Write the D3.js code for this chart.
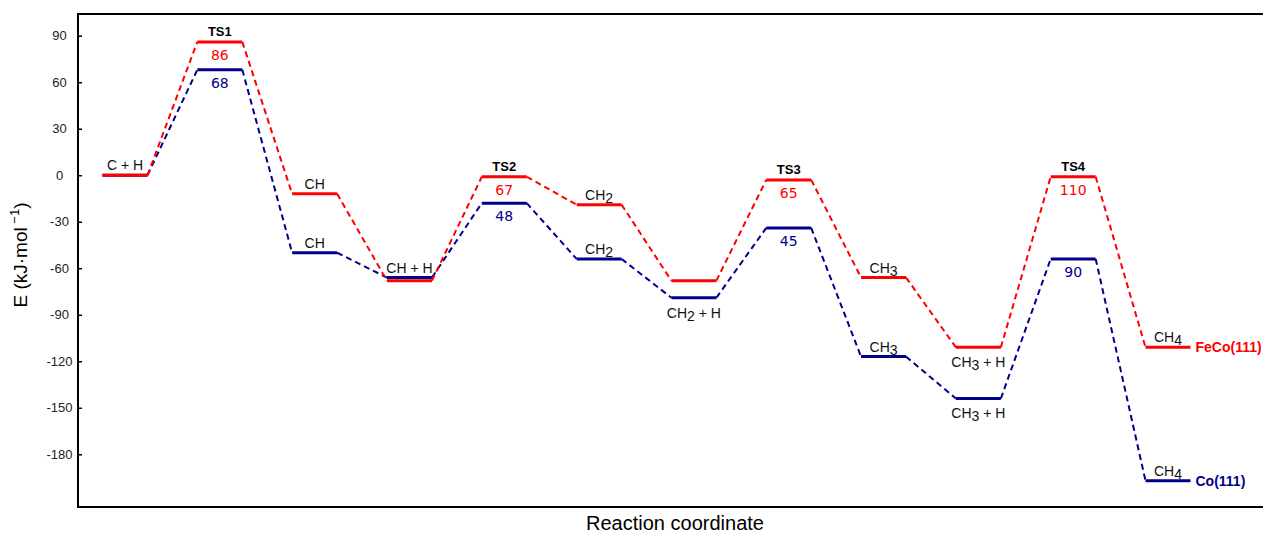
<!DOCTYPE html>
<html>
<head>
<meta charset="utf-8">
<script src="https://cdn.jsdelivr.net/npm/d3@7"></script>
<style>
body { margin: 0; background: #fff; }
text { font-family: "Liberation Sans", Arial, sans-serif; }
</style>
</head>
<body>
<script>
// reaction states along the coordinate
var states = ["C + H", "TS1", "CH", "CH + H", "TS2", "CH2", "CH2 + H", "TS3", "CH3", "CH3 + H", "TS4", "CH4"];
// energies (kJ/mol)
var fecoE = [0, 86, -12, -68, -1, -19, -68, -3, -66, -111, -1, -111];
var coE = [0, 68, -50, -66, -18, -54, -79, -34, -117, -144, -54, -197];
// barrier labels at each TS
var fecoBarrier = [86, 67, 65, 110];
var coBarrier = [68, 48, 45, 90];
var yTicks = [90, 60, 30, 0, -30, -60, -90, -120, -150, -180];

var width = 1263, height = 533;
var red = "#ff0000", blue = "#00008b";

var svg = d3.select("body").append("svg")
	.attr("width", width)
	.attr("height", height);

var x = d3.scaleLinear().domain([0, states.length - 1]).range([125, 1168]);
var y = d3.scaleLinear().domain([-214, 104]).range([507, 14]);
var half = 22.5;

// frame
svg.append("rect")
	.attr("x", 78).attr("y", 14)
	.attr("width", 1200).attr("height", 493)
	.attr("fill", "none").attr("stroke", "#000").attr("stroke-width", 2);

// y axis, ticks inside, labels centred in the margin
var yAxis = svg.append("g")
	.attr("transform", "translate(78,0)")
	.call(d3.axisRight(y).tickValues(yTicks).tickSize(4).tickFormat(function(d) { return String(d); }));
yAxis.select(".domain").remove();
yAxis.selectAll("line").attr("stroke", "#000").attr("stroke-width", 1.5);
yAxis.selectAll("text")
	.attr("x", -18.5)
	.attr("text-anchor", "middle")
	.attr("fill", "#222")
	.style("font-size", "13px")
	.style("font-family", "Liberation Sans, Arial, sans-serif");

// axis titles
var yt = svg.append("text")
	.attr("transform", "translate(27,255) rotate(-90)")
	.attr("text-anchor", "middle")
	.style("font-size", "19px");
yt.append("tspan").text("E (kJ\u00b7mol");
yt.append("tspan").attr("dy", -8).style("font-size", "13px").text(" \u22121");
yt.append("tspan").attr("dy", 8).text(")");

svg.append("text")
	.attr("x", 675).attr("y", 530)
	.attr("text-anchor", "middle")
	.style("font-size", "20px")
	.text("Reaction coordinate");

function drawSeries(vals, color) {
	var g = svg.append("g");
	// dashed connectors
	for (var i = 0; i < vals.length - 1; i++) {
		g.append("line")
			.attr("x1", x(i) + half).attr("y1", y(vals[i]))
			.attr("x2", x(i + 1) - half).attr("y2", y(vals[i + 1]))
			.attr("stroke", color).attr("stroke-width", 2)
			.attr("stroke-dasharray", "6,4");
	}
	// levels
	g.selectAll("line.level").data(vals).enter().append("line")
		.attr("class", "level")
		.attr("x1", function(d, i) { return x(i) - half; })
		.attr("x2", function(d, i) { return x(i) + half; })
		.attr("y1", function(d) { return y(d); })
		.attr("y2", function(d) { return y(d); })
		.attr("stroke", color).attr("stroke-width", 3);
}

drawSeries(coE, blue);
drawSeries(fecoE, red);

// state name with subscripts
function stateLabel(i, yy) {
	var t = svg.append("text")
		.attr("x", x(i)).attr("y", yy)
		.attr("text-anchor", "middle")
		.attr("fill", "#111")
		.style("font-size", "14px");
	var m = states[i].match(/^(CH)(\d)(.*)$/);
	if (m) {
		t.append("tspan").text(m[1]);
		t.append("tspan").attr("dy", 3).text(m[2]);
		t.append("tspan").attr("dy", -3).text(m[3]);
	} else {
		t.text(states[i]);
	}
}

// which labels go where: a = above, b = below
var placement = {
	0: { feco: "a" },
	2: { feco: "a", co: "a" },
	3: { co: "a" },
	5: { feco: "a", co: "a" },
	6: { co: "b" },
	8: { feco: "a", co: "a" },
	9: { feco: "b", co: "b" },
	11: { feco: "a", co: "a" }
};
Object.keys(placement).forEach(function(k) {
	var i = +k, p = placement[k];
	if (p.feco) stateLabel(i, p.feco === "a" ? y(fecoE[i]) - 5 : y(fecoE[i]) + 20);
	if (p.co) stateLabel(i, p.co === "a" ? y(coE[i]) - 5 : y(coE[i]) + 20);
});

// transition states
var tsIdx = states.map(function(s, i) { return s.indexOf("TS") === 0 ? i : -1; })
	.filter(function(i) { return i >= 0; });
tsIdx.forEach(function(i, k) {
	svg.append("text")
		.attr("x", x(i)).attr("y", y(fecoE[i]) - 6)
		.attr("text-anchor", "middle")
		.style("font-size", "13px").style("font-weight", "bold")
		.text(states[i]);
	svg.append("text")
		.attr("x", x(i)).attr("y", y(fecoE[i]) + 18)
		.attr("text-anchor", "middle")
		.attr("fill", red)
		.style("font-size", "14px").style("font-family", "DejaVu Sans, sans-serif")
		.text(fecoBarrier[k]);
	svg.append("text")
		.attr("x", x(i)).attr("y", y(coE[i]) + 18)
		.attr("text-anchor", "middle")
		.attr("fill", blue)
		.style("font-size", "14px").style("font-family", "DejaVu Sans, sans-serif")
		.text(coBarrier[k]);
});

// series names at the end
var last = states.length - 1;
svg.append("text")
	.attr("x", x(last) + half + 5).attr("y", y(fecoE[last]) + 5)
	.attr("fill", red).style("font-size", "14px").style("font-weight", "bold")
	.text("FeCo(111)");
svg.append("text")
	.attr("x", x(last) + half + 5).attr("y", y(coE[last]) + 5)
	.attr("fill", blue).style("font-size", "14px").style("font-weight", "bold")
	.text("Co(111)");
</script>
</body>
</html>
